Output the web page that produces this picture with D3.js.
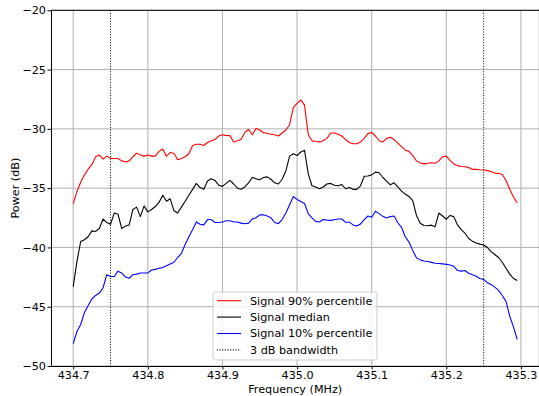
<!DOCTYPE html>
<html>
<head>
<meta charset="utf-8">
<script src="https://cdn.jsdelivr.net/npm/d3@7"></script>
<style>
  body { margin: 0; background: #fff; }
  svg { display: block; font-family: "DejaVu Sans", sans-serif; }
</style>
</head>
<body>
<div id="chart"></div>
<script>
// frequency bins (MHz), 0.005 MHz apart
const freqStart = 434.700;
const freqStep = 0.005;
const freqCount = 120;

// 90% percentile (dB)
const signalP90 = [
  -36.3, -35.3, -34.5, -33.9, -33.4, -33.0, -32.35, -32.2, -32.55, -32.3,
  -32.5, -32.5, -32.5, -32.7, -32.8, -32.7, -32.35, -32.05, -32.2, -32.3,
  -32.2, -32.3, -32.3, -31.9, -31.7, -32.3, -32.0, -32.05, -32.6, -32.5,
  -32.35, -32.1, -31.4, -31.3, -31.3, -31.4, -31.15, -31.0, -30.9, -30.6,
  -30.5, -30.55, -30.57, -31.1, -31.0, -30.9, -30.3, -30.05, -30.5, -29.95,
  -30.1, -30.33, -30.37, -30.45, -30.5, -30.6, -30.35, -30.1, -29.65, -28.2,
  -27.85, -27.55, -28.0, -30.5, -31.0, -31.07, -31.1, -31.0, -30.8, -30.35,
  -30.35, -30.45, -30.6, -30.9, -31.15, -31.25, -31.25, -31.1, -30.8, -30.4,
  -30.3, -30.6, -31.0, -31.1, -30.8, -30.7, -30.9, -31.2, -31.5, -31.8,
  -31.9, -32.25, -32.7, -32.88, -32.95, -32.9, -32.86, -32.9, -32.7, -32.35,
  -32.3, -32.65, -32.96, -33.1, -33.17, -33.2, -33.25, -33.42, -33.4, -33.45,
  -33.47, -33.52, -33.6, -33.73, -33.75, -33.85, -34.35, -35.1, -35.75, -36.25
];

// median (dB)
const signalMedian = [
  -43.3, -41.2, -39.5, -39.35, -39.1, -38.6, -38.65, -38.4, -37.6, -37.9,
  -38.05, -37.1, -37.2, -38.4, -38.2, -38.1, -36.8, -36.6, -37.4, -36.5,
  -37.0, -36.8, -36.55, -36.2, -35.6, -36.1, -35.9, -36.9, -37.1, -36.6,
  -36.1, -35.6, -35.1, -34.6, -34.95, -35.1, -34.4, -34.2, -34.35, -34.75,
  -34.85, -34.6, -34.35, -34.65, -35.0, -35.1, -34.9, -34.55, -34.1, -34.2,
  -34.3, -34.1, -34.05, -34.25, -34.55, -34.65, -34.25, -33.55, -32.3, -32.1,
  -32.25, -31.95, -31.8, -33.8, -34.8, -34.9, -35.05, -34.9, -34.65, -34.6,
  -34.75, -34.8, -34.7, -35.05, -34.95, -35.1, -35.1, -34.8, -34.0, -33.97,
  -33.88, -33.65, -33.7, -34.1, -34.4, -34.72, -34.55, -34.9, -35.25, -35.5,
  -35.7, -36.05, -37.3, -37.96, -38.15, -38.17, -38.12, -38.25, -37.1, -37.35,
  -37.62, -37.3, -37.4, -38.1, -38.5, -38.8, -39.25, -39.47, -39.62, -39.72,
  -39.79, -40.0, -40.35, -40.6, -40.85, -41.25, -41.75, -42.25, -42.62, -42.78
];

// 10% percentile (dB)
const signalP10 = [
  -48.1, -47.1, -46.5, -45.5, -44.9, -44.35, -44.05, -43.85, -43.4, -42.3,
  -42.45, -42.45, -42.0, -42.15, -42.5, -42.6, -42.3, -42.25, -42.15, -42.15,
  -42.15, -41.9, -41.85, -41.75, -41.7, -41.55, -41.4, -41.25, -40.85, -40.5,
  -39.75, -39.1, -38.5, -37.85, -38.05, -38.1, -37.65, -37.65, -37.9, -37.9,
  -37.85, -37.75, -37.75, -37.85, -37.85, -37.95, -38.0, -37.95, -37.6, -37.5,
  -37.25, -37.25, -37.35, -37.5, -37.9, -38.0, -37.65, -37.1, -36.4, -35.7,
  -35.95, -36.13, -36.3, -37.15, -37.5, -37.8, -37.85, -37.65, -37.7, -37.72,
  -37.66, -37.6, -37.6, -37.88, -37.87, -38.1, -38.19, -38.03, -37.65, -37.35,
  -37.45, -36.95, -37.15, -37.38, -37.52, -37.4, -37.35, -37.92, -38.3, -39.1,
  -39.55, -40.25, -40.88, -41.05, -41.14, -41.19, -41.26, -41.34, -41.36, -41.39,
  -41.43, -41.48, -41.58, -41.95, -42.0, -41.95, -42.18, -42.3, -42.43, -42.62,
  -42.7, -42.97, -43.12, -43.35, -43.62, -44.05, -44.55, -45.8, -46.7, -47.75
];

// 3 dB bandwidth edges (MHz)
const bandwidthEdges = [434.75, 435.25];

const xTicks = [434.7, 434.8, 434.9, 435.0, 435.1, 435.2, 435.3];
const yTicks = [-50, -45, -40, -35, -30, -25, -20];

const seriesNames = ["Signal 90% percentile", "Signal median", "Signal 10% percentile"];
const seriesColors = ["red", "black", "blue"];

const freqs = d3.range(freqCount).map(i => +(freqStart + i * freqStep).toFixed(3));
const seriesValues = [signalP90, signalMedian, signalP10];

const width = 539;
const height = 396;
const plotLeft = 51, plotTop = 10.3, plotRight = 539.4, plotBottom = 366;

const x = d3.scaleLinear().domain([434.67025, 435.32475]).range([plotLeft, plotRight]);
const y = d3.scaleLinear().domain([-50, -20]).range([plotBottom, plotTop]);

const svg = d3.select("#chart").append("svg")
  .attr("width", width).attr("height", height);

// grid
svg.append("g")
  .selectAll("line").data(xTicks).join("line")
  .attr("x1", d => x(d)).attr("x2", d => x(d))
  .attr("y1", plotTop).attr("y2", plotBottom)
  .attr("stroke", "#b0b0b0").attr("stroke-width", 1);
svg.append("g")
  .selectAll("line").data(yTicks).join("line")
  .attr("x1", plotLeft).attr("x2", plotRight)
  .attr("y1", d => y(d)).attr("y2", d => y(d))
  .attr("stroke", "#b0b0b0").attr("stroke-width", 1);

// lines
const line = d3.line()
  .x((d, i) => x(freqs[i]))
  .y(d => y(d));

seriesValues.forEach((vals, k) => {
  svg.append("path")
    .attr("fill", "none")
    .attr("stroke", seriesColors[k])
    .attr("stroke-width", 1.1)
    .attr("stroke-linejoin", "round")
    .attr("d", line(vals));
});

// 3 dB bandwidth markers
svg.append("g")
  .selectAll("line").data(bandwidthEdges).join("line")
  .attr("x1", d => x(d)).attr("x2", d => x(d))
  .attr("y1", plotTop).attr("y2", plotBottom)
  .attr("stroke", "black").attr("stroke-width", 1)
  .attr("stroke-dasharray", "1,1.65");

// spines
svg.append("line").attr("x1", plotLeft).attr("x2", plotRight).attr("y1", plotTop).attr("y2", plotTop)
  .attr("stroke", "black").attr("stroke-width", 1);
svg.append("line").attr("x1", plotRight).attr("x2", plotRight).attr("y1", plotTop).attr("y2", plotBottom)
  .attr("stroke", "black").attr("stroke-width", 1);

// axes
const xAxis = svg.append("g")
  .attr("transform", `translate(0,${plotBottom})`)
  .call(d3.axisBottom(x).tickValues(xTicks).tickFormat(d3.format(".1f"))
    .tickSize(3.5).tickPadding(1.5).tickSizeOuter(0));
const yAxis = svg.append("g")
  .attr("transform", `translate(${plotLeft},0)`)
  .call(d3.axisLeft(y).tickValues(yTicks).tickFormat(d3.format("d"))
    .tickSize(3.5).tickPadding(1.5).tickSizeOuter(0));

[xAxis, yAxis].forEach(g => {
  g.select(".domain").attr("stroke", "black").attr("stroke-width", 1);
  g.selectAll(".tick line").attr("stroke", "black").attr("stroke-width", 1);
  g.selectAll(".tick text").attr("fill", "black")
    .style("font-size", "11.2px").style("font-family", "DejaVu Sans");
});

svg.append("text")
  .attr("x", (plotLeft + plotRight) / 2).attr("y", 393)
  .attr("text-anchor", "middle")
  .style("font-size", "11.2px")
  .text("Frequency (MHz)");

svg.append("text")
  .attr("transform", `translate(18.5,${(plotTop + plotBottom) / 2}) rotate(-90)`)
  .attr("text-anchor", "middle")
  .style("font-size", "11.2px")
  .text("Power (dB)");

// legend
const legend = svg.append("g").attr("transform", "translate(213,292)");
legend.append("rect")
  .attr("x", 0).attr("y", 0).attr("width", 164).attr("height", 68)
  .attr("rx", 2.5)
  .attr("fill", "white").attr("fill-opacity", 0.8)
  .attr("stroke", "#cccccc").attr("stroke-width", 1);

const legendItems = [
  { name: seriesNames[0], color: seriesColors[0], dash: null },
  { name: seriesNames[1], color: seriesColors[1], dash: null },
  { name: seriesNames[2], color: seriesColors[2], dash: null },
  { name: "3 dB bandwidth", color: "black", dash: "1,1.65" }
];

const item = legend.selectAll("g.item").data(legendItems).join("g")
  .attr("class", "item")
  .attr("transform", (d, i) => `translate(0,${8.7 + i * 16.4})`);
item.append("line")
  .attr("x1", 4).attr("x2", 28).attr("y1", 0).attr("y2", 0)
  .attr("stroke", d => d.color).attr("stroke-width", 1.1)
  .attr("stroke-dasharray", d => d.dash);
item.append("text")
  .attr("x", 37).attr("y", 0).attr("dy", "0.35em")
  .style("font-size", "11.2px")
  .text(d => d.name);
</script>
</body>
</html>
